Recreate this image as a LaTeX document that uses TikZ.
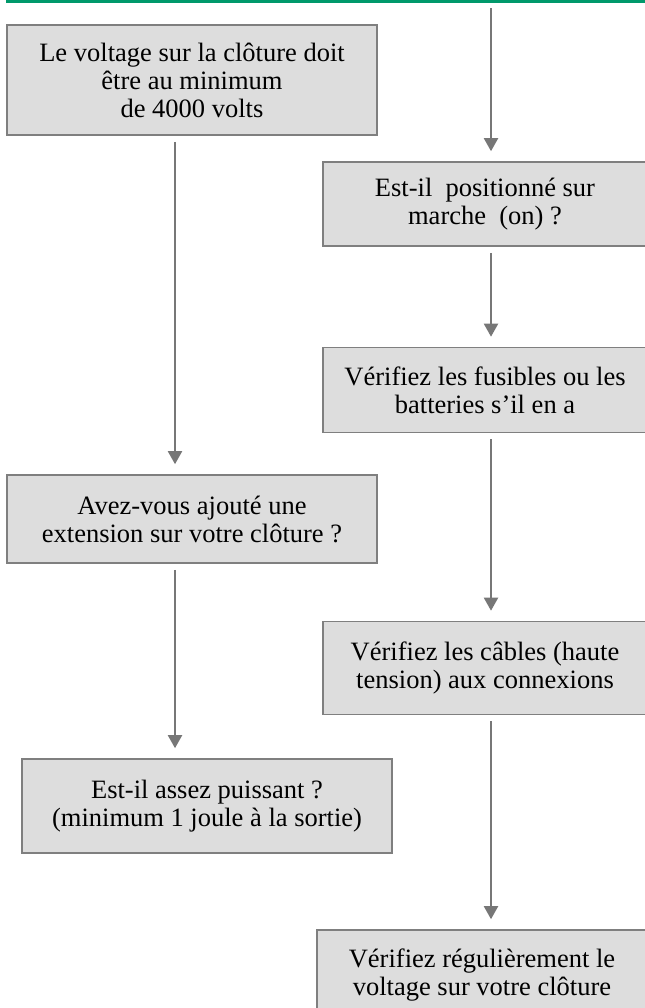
\documentclass[tikz,border=0pt]{standalone}
\usepackage{fontspec}
\setmainfont{Liberation Serif}
\usetikzlibrary{arrows.meta, positioning}
\definecolor{boxfill}{HTML}{DDDDDD}
\definecolor{boxline}{HTML}{7F7F7F}
\definecolor{arrowgray}{HTML}{777777}
\definecolor{rulegreen}{HTML}{00996B}

\begin{document}
\begin{tikzpicture}[
    x=1bp, y=-1bp,
    stepbox/.style={rectangle, draw=boxline, fill=boxfill, line width=1.6bp, inner sep=0pt, text centered, align=center, font=\fontsize{26.5bp}{28bp}\selectfont},
    arrow/.style={-{Triangle[width=14bp,length=13bp]}, line width=2bp, draw=arrowgray, shorten <=6bp, shorten >=10bp}
]
\useasboundingbox (0,0) rectangle (645,1008);

% Top rule
\draw[rulegreen, line width=3bp] (6,1.5) -- (650,1.5);

% Left column
\node[stepbox, minimum width=370bp, minimum height=110bp] (voltage) at (192,80) {Le voltage sur la clôture doit\\ être au minimum\\ de 4000 volts};
\node[stepbox, minimum width=370bp, minimum height=88bp] (extension) at (192,519) {Avez-vous ajouté une\\ extension sur votre clôture ?};
\node[stepbox, minimum width=370bp, minimum height=94bp] (power) at (207,806) {Est-il assez puissant ?\\ (minimum 1 joule à la sortie)};

% Right column
\node[stepbox, minimum width=324bp, minimum height=84bp] (onoff) at (485,204) {Est-il~ positionné sur\\ marche~ (on) ?};
\node[stepbox, minimum width=324bp, minimum height=85bp] (fuses) at (485,390) {Vérifiez les fusibles ou les\\ batteries s’il en a};
\node[stepbox, minimum width=324bp, minimum height=93bp] (cables) at (485,668) {Vérifiez les câbles (haute\\ tension) aux connexions};
\node[stepbox, minimum width=330bp, minimum height=90bp] (check) at (482,975) {Vérifiez régulièrement le\\ voltage sur votre clôture};

% Arrow columns
\coordinate (leftcol) at (175,0);
\coordinate (rightcol) at (491,0);
\coordinate (feed) at (491,2);

% Arrows
\draw[arrow] (voltage.south -| leftcol) -- (extension.north -| leftcol);
\draw[arrow] (extension.south -| leftcol) -- (power.north -| leftcol);
\draw[arrow] (feed) -- (onoff.north -| rightcol);
\draw[arrow] (onoff.south -| rightcol) -- (fuses.north -| rightcol);
\draw[arrow] (fuses.south -| rightcol) -- (cables.north -| rightcol);
\draw[arrow] (cables.south -| rightcol) -- (check.north -| rightcol);

\end{tikzpicture}
\end{document}
